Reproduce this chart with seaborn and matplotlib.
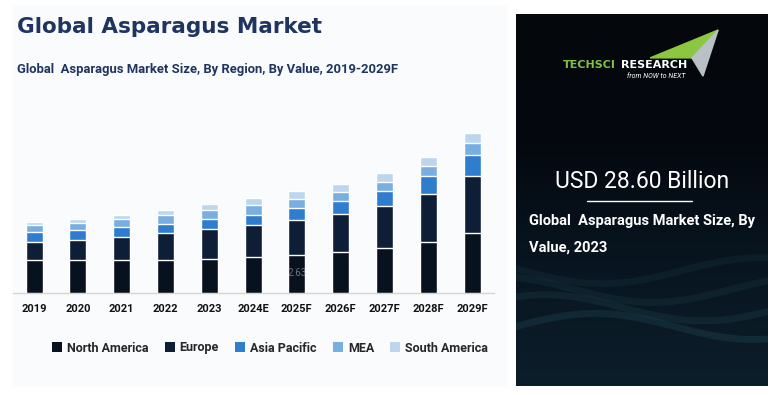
import matplotlib
matplotlib.use("Agg")
import matplotlib.pyplot as plt
import numpy as np
import pandas as pd
import seaborn as sns
from matplotlib.patches import Rectangle, Polygon, Patch

# values in USD billion (2023 total = 28.60)
years = ["2019", "2020", "2021", "2022", "2023", "2024E",
         "2025F", "2026F", "2027F", "2028F", "2029F"]
regions = ["North America", "Europe", "Asia Pacific", "MEA", "South America"]
north_america = [10.60, 10.60, 10.60, 10.60, 10.92, 11.57, 12.21, 13.17, 14.46, 16.39, 19.28]
europe = [5.78, 6.43, 7.39, 8.68, 9.64, 10.28, 11.25, 12.21, 13.50, 15.42, 18.31]
asia_pacific = [3.21, 3.21, 3.21, 2.89, 3.21, 3.21, 3.86, 4.18, 4.82, 5.78, 6.75]
mea = [2.25, 2.25, 2.57, 2.89, 2.89, 3.21, 2.89, 2.89, 2.89, 3.21, 3.86]
south_america = [0.96, 1.29, 1.29, 1.61, 1.93, 2.25, 2.57, 2.57, 2.89, 2.89, 3.21]
colors = ["#08121e", "#0e1e36", "#2f7dcd", "#78aee0", "#bdd6ee"]

title = "Global Asparagus Market"
subtitle = "Global  Asparagus Market Size, By Region, By Value, 2019-2029F"
headline = "USD 28.60 Billion"
caption = ["Global  Asparagus Market Size, By", "Value, 2023"]

sns.set_theme(style="white")
plt.rcParams["font.family"] = ["Roboto", "DejaVu Sans"]

W, H = 778, 395
fig = plt.figure(figsize=(W / 100, H / 100), dpi=100)
fig.patch.set_facecolor("white")

# light panel behind the chart
fig.add_artist(Rectangle((13 / W, 1 - 386 / H), 493 / W, 381 / H,
                         transform=fig.transFigure, color="#fafbfc", zorder=0))

# dark info panel on the right
dark = fig.add_axes([516 / W, 1 - 386 / H, 252 / W, 372 / H])
grad = np.linspace(0, 1, 200)[:, None] * np.ones((1, 10))
dark.imshow(grad, aspect="auto", extent=[0, 1, 0, 1], origin="upper",
            cmap=matplotlib.colors.LinearSegmentedColormap.from_list(
                "bg", ["#04070c", "#04080e", "#081520", "#0c1e2a"]))
xx = np.linspace(0, 1, 100)
for k, a in enumerate([0.16, 0.13, 0.11, 0.09]):
    dark.plot(xx, 0.16 + 0.05 * k + 0.035 * np.sin(5 * xx + k), color="#3b7f8a",
              alpha=a, lw=5)
dark.set_xlim(0, 1)
dark.set_ylim(0, 1)
dark.axis("off")

# logo
tip, tr, inner, bot = [0.532, 0.882], [0.802, 0.957], [0.698, 0.882], [0.742, 0.833]
dark.add_patch(Polygon([tip, tr, inner], closed=True, color="#8dc63f"))
dark.add_patch(Polygon([inner, tr, bot], closed=True, color="#b9c0c6"))
dark.text(0.187, 0.862, "TECHSCI", color="#7cc242", fontsize=8, fontweight="bold",
          family="DejaVu Sans", ha="left", va="center", zorder=5)
dark.text(0.418, 0.862, "RESEARCH", color="white", fontsize=8, fontweight="bold",
          family="DejaVu Sans", ha="left", va="center", zorder=5)
dark.text(0.44, 0.834, "from NOW to NEXT", color="white", fontsize=5,
          style="italic", ha="left", va="center", zorder=5)

dark.text(0.5, 0.55, headline, color="white", fontsize=16.5, ha="center", va="center")
dark.plot([0.28, 0.70], [0.497, 0.497], color="white", lw=1)
dark.text(0.05, 0.444, caption[0], color="white", fontsize=10.5, fontweight="bold",
          ha="left", va="center")
dark.text(0.05, 0.372, caption[1], color="white", fontsize=10.5, fontweight="bold",
          ha="left", va="center")

# titles
fig.text(17 / W, 1 - 27 / H, title, color="#1f3560", fontsize=15.5,
         fontweight="bold", family="DejaVu Sans", ha="left", va="center")
fig.text(17 / W, 1 - 70 / H, subtitle, color="#1f3560", fontsize=9.4,
         fontweight="bold", ha="left", va="center")

# stacked bar chart
df = pd.DataFrame({"year": years, "North America": north_america, "Europe": europe,
                   "Asia Pacific": asia_pacific, "MEA": mea,
                   "South America": south_america})
cum = df[regions].cumsum(axis=1)
cum["year"] = df["year"]

ax = fig.add_axes([12.6 / W, 1 - 293 / H, 481.8 / W, 193 / H])
ax.patch.set_alpha(0)
for reg, col in reversed(list(zip(regions, colors))):
    sns.barplot(data=cum, x="year", y=reg, color=col, width=0.39,
                saturation=1, ax=ax, zorder=3)
ax.set_xlim(-0.49, 10.51)
ax.set_ylim(0, 62)
ax.set_xlabel("")
ax.set_ylabel("")
ax.set_yticks([])
for s in ["top", "right", "left"]:
    ax.spines[s].set_visible(False)
ax.spines["bottom"].set_color("#d4d4d4")
ax.spines["bottom"].set_linewidth(1)
ax.tick_params(axis="x", length=0, pad=8, labelsize=8)
for lab in ax.get_xticklabels():
    lab.set_fontweight("bold")
    lab.set_color("#111111")

# faint leftover label in the source image
ax.text(6, 2.63 * 2.5, "2.63", color="#b0b4ba", fontsize=7, ha="center",
        va="center", alpha=0.6, zorder=5)

handles = [Patch(facecolor=c, edgecolor="none") for c in colors]
fig.legend(handles, regions, loc="center", bbox_to_anchor=(270 / W, 1 - 348 / H),
           ncol=5, frameon=False, handlelength=0.8, handleheight=0.8,
           handletextpad=0.4, columnspacing=1.3,
           prop={"weight": "bold", "size": 9})

fig.savefig("out.png", dpi=100, facecolor=fig.get_facecolor())
